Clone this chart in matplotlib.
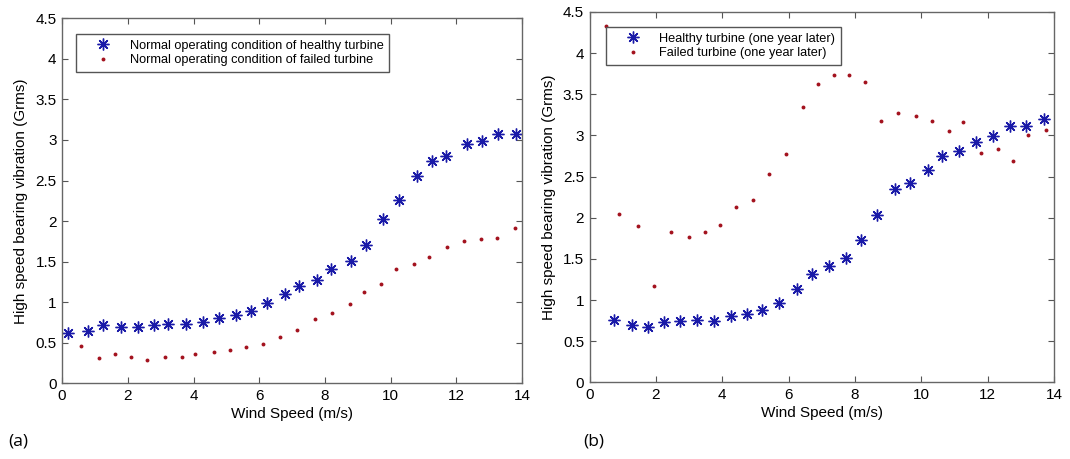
import numpy as np
import matplotlib
matplotlib.use("Agg")
import matplotlib.pyplot as plt

plt.rcParams["font.family"] = ["Liberation Sans", "DejaVu Sans"]

# (a) normal operating condition
a_healthy_x = [0.19, 0.80, 1.26, 1.80, 2.30, 2.79, 3.23, 3.76, 4.29, 4.77, 5.28, 5.74, 6.25, 6.77,
               7.20, 7.76, 8.19, 8.80, 9.24, 9.77, 10.26, 10.80, 11.26, 11.68, 12.32, 12.79, 13.27, 13.80]
a_healthy_y = [0.62, 0.645, 0.72, 0.69, 0.70, 0.72, 0.73, 0.73, 0.76, 0.80, 0.84, 0.89, 0.99, 1.10,
               1.20, 1.27, 1.405, 1.51, 1.70, 2.03, 2.26, 2.56, 2.74, 2.80, 2.95, 2.99, 3.08, 3.07]
a_failed_x = [0.58, 1.12, 1.62, 2.10, 2.58, 3.12, 3.65, 4.06, 4.62, 5.11, 5.59, 6.10, 6.64, 7.14,
              7.69, 8.21, 8.76, 9.19, 9.71, 10.17, 10.71, 11.18, 11.70, 12.22, 12.74, 13.24, 13.78]
a_failed_y = [0.456, 0.31, 0.36, 0.32, 0.29, 0.32, 0.32, 0.36, 0.39, 0.415, 0.45, 0.49, 0.575, 0.66,
              0.79, 0.87, 0.98, 1.12, 1.22, 1.41, 1.475, 1.56, 1.68, 1.75, 1.78, 1.79, 1.92]

# (b) one year later
b_healthy_x = [0.73, 1.27, 1.77, 2.25, 2.74, 3.24, 3.74, 4.26, 4.74, 5.21, 5.72, 6.26, 6.71, 7.21,
               7.74, 8.18, 8.68, 9.20, 9.66, 10.20, 10.64, 11.15, 11.65, 12.17, 12.66, 13.17, 13.69]
b_healthy_y = [0.76, 0.70, 0.67, 0.73, 0.745, 0.757, 0.74, 0.81, 0.83, 0.88, 0.96, 1.13, 1.32, 1.41,
               1.51, 1.73, 2.03, 2.35, 2.42, 2.58, 2.75, 2.81, 2.92, 2.99, 3.11, 3.11, 3.20]
b_failed_x = [0.485, 0.90, 1.46, 1.95, 2.47, 2.99, 3.49, 3.94, 4.41, 4.93, 5.42, 5.93, 6.43, 6.88,
              7.36, 7.83, 8.31, 8.80, 9.30, 9.83, 10.32, 10.84, 11.27, 11.79, 12.31, 12.76, 13.23, 13.76]
b_failed_y = [4.33, 2.04, 1.90, 1.17, 1.83, 1.77, 1.83, 1.91, 2.13, 2.21, 2.53, 2.77, 3.34, 3.63,
              3.73, 3.73, 3.65, 3.17, 3.27, 3.24, 3.18, 3.05, 3.16, 2.79, 2.84, 2.69, 3.00, 3.07]

xticks = [0, 2, 4, 6, 8, 10, 12, 14]
yticks = [0, 0.5, 1, 1.5, 2, 2.5, 3, 3.5, 4, 4.5]
ytick_labels = ["0", "0.5", "1", "1.5", "2", "2.5", "3", "3.5", "4", "4.5"]

star_color = "#1a1aa8"
dot_color = "#a3121e"
star = (8, 2, 0)

fig = plt.figure(figsize=(10.7, 4.59), dpi=100)
ax1 = fig.add_axes([0.058, 0.165, 0.430, 0.795])
ax2 = fig.add_axes([0.551, 0.167, 0.434, 0.807])

panels = [
    (ax1, a_healthy_x, a_healthy_y, a_failed_x, a_failed_y,
     ["Normal operating condition of healthy turbine", "Normal operating condition of failed turbine"],
     (0.030, 0.957)),
    (ax2, b_healthy_x, b_healthy_y, b_failed_x, b_failed_y,
     ["Healthy turbine (one year later)", "Failed turbine (one year later)"],
     (0.035, 0.959)),
]

for ax, hx, hy, fx, fy, labels, anchor in panels:
    ax.plot(hx, hy, linestyle="none", marker=star, markersize=8.5, markeredgewidth=1.0,
            color=star_color, label=labels[0])
    ax.plot(fx, fy, linestyle="none", marker="o", markersize=2.8, markeredgewidth=0,
            color=dot_color, label=labels[1])
    ax.set_xlim(0, 14)
    ax.set_ylim(0, 4.5)
    ax.set_xticks(xticks)
    ax.set_yticks(yticks)
    ax.set_yticklabels(ytick_labels)
    ax.tick_params(direction="in", top=True, right=True, length=4, width=0.8,
                   color="#555555", labelsize=11, pad=4)
    for s in ax.spines.values():
        s.set_color("#666666")
        s.set_linewidth(1.0)
    ax.set_xlabel("Wind Speed (m/s)", fontsize=11, labelpad=3)
    ax.set_ylabel("High speed bearing vibration (Grms)", fontsize=11, labelpad=5)
    leg = ax.legend(loc="upper left", bbox_to_anchor=anchor, borderaxespad=0,
                    fontsize=9.2, fancybox=False, edgecolor="#555555", framealpha=1,
                    handletextpad=0.35, handlelength=3.4, borderpad=0.45, labelspacing=0.2)
    leg.get_frame().set_linewidth(1.0)

fig.text(0.008, 0.03, "(a)", fontsize=12.5, family=["Open Sans", "DejaVu Sans"])
fig.text(0.545, 0.03, "(b)", fontsize=12.5, family=["Open Sans", "DejaVu Sans"])

fig.savefig("out.png", dpi=100, facecolor="white")
